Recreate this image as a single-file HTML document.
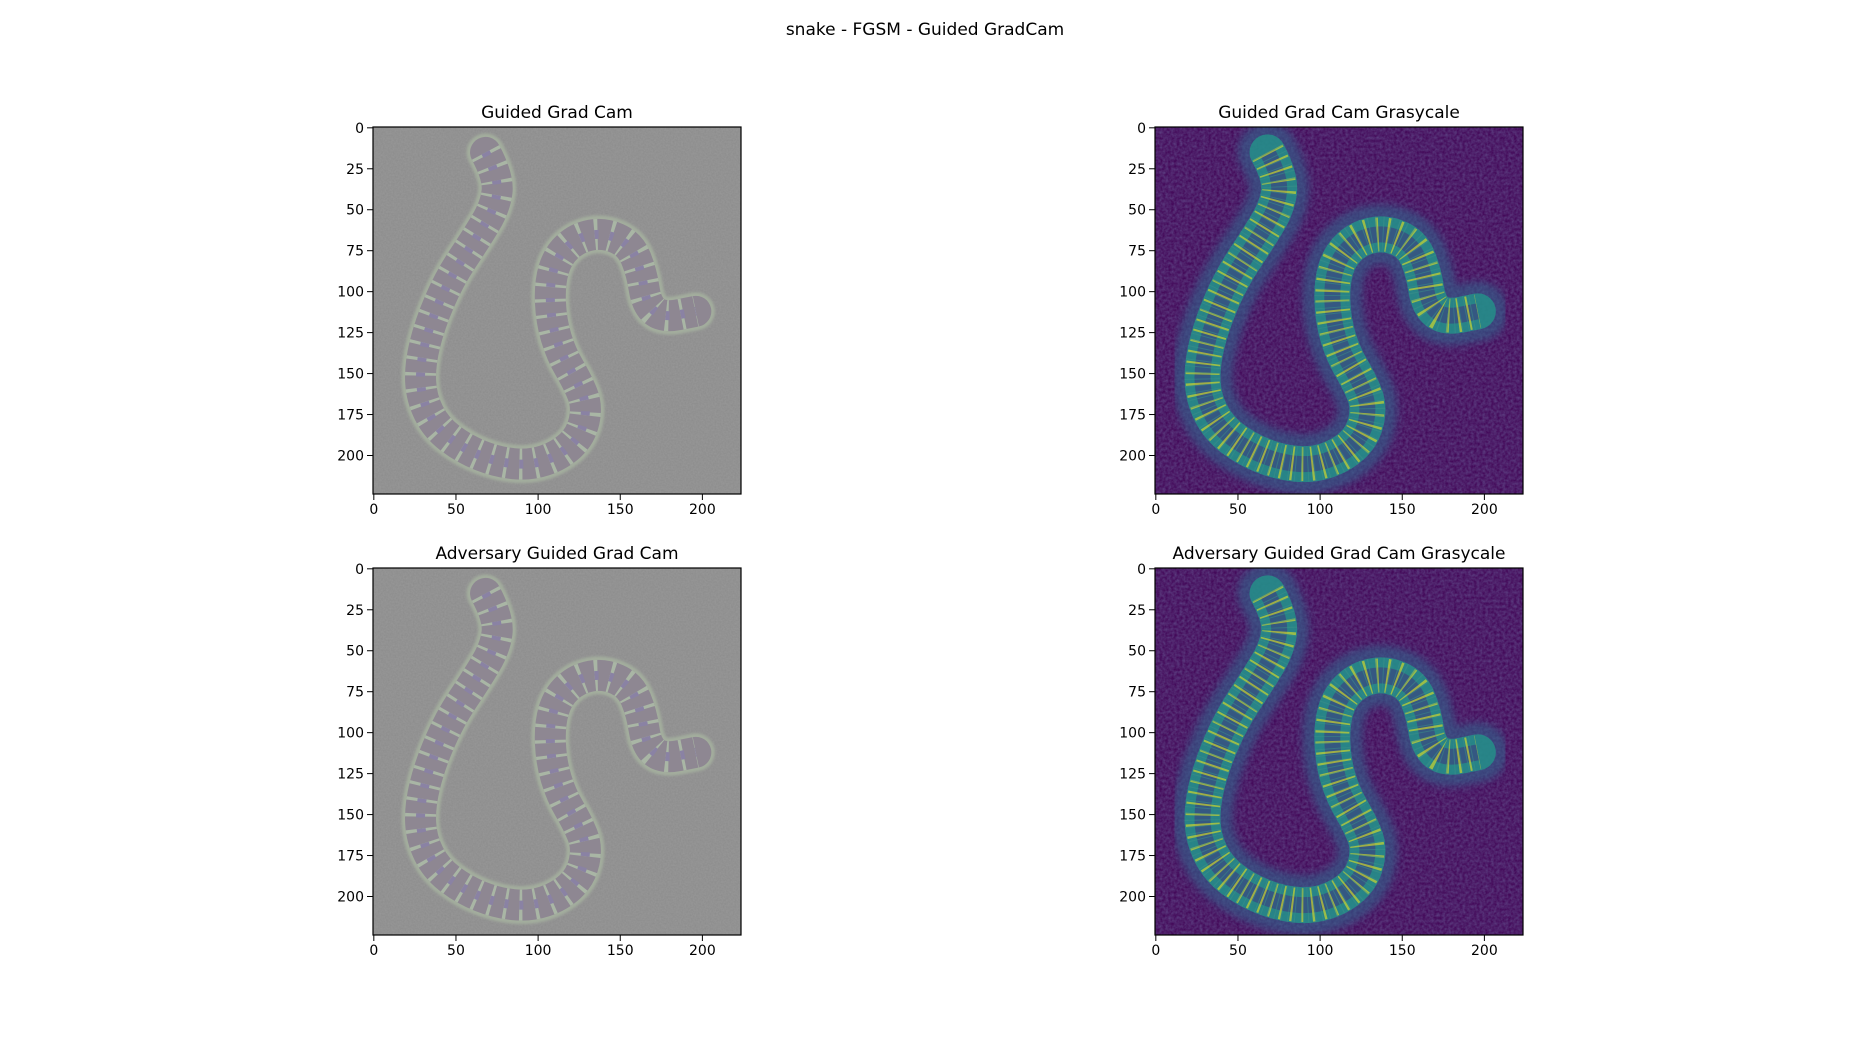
<!DOCTYPE html>
<html><head><meta charset="utf-8"><style>
html,body{margin:0;padding:0;background:#fff;width:1850px;height:1050px;overflow:hidden}
svg text{font-family:"DejaVu Sans","Liberation Sans",sans-serif;fill:#000}
</style></head><body>
<svg id="fig" width="1850" height="1050" xmlns="http://www.w3.org/2000/svg">
<defs>
<filter id="noiseGray" x="0" y="0" width="1" height="1">
<feTurbulence type="fractalNoise" baseFrequency="0.6" numOctaves="2" seed="3" result="n"/>
<feColorMatrix in="n" type="matrix" values="0 0 0 0 0.54  0 0 0 0 0.54  0 0 0 0 0.54  0 0 0 0.25 0"/>
</filter>
<filter id="noiseV" x="0" y="0" width="1" height="1">
<feTurbulence type="fractalNoise" baseFrequency="0.35" numOctaves="2" seed="7" result="n"/>
<feColorMatrix in="n" type="matrix" values="0 0 0 0 0.23  0 0 0 0 0.32  0 0 0 0 0.55  0 0 0 0.5 -0.1"/>
</filter>
<filter id="bodyNoise" x="0" y="0" width="1" height="1">
<feTurbulence type="fractalNoise" baseFrequency="0.5" numOctaves="1" seed="11" result="n"/>
<feColorMatrix in="n" type="matrix" values="0 0 0 0 0.27  0 0 0 0 0.05  0 0 0 0 0.35  0 0 0 1.6 -0.55"/>
</filter>
<filter id="blur1"><feGaussianBlur stdDeviation="4"/></filter>
<filter id="blur2"><feGaussianBlur stdDeviation="1.2"/></filter>
</defs>
<text x="925" y="35" font-size="17" text-anchor="middle">snake - FGSM - Guided GradCam</text>
<g id="panels"></g>
</svg>
<script>
const panelTitles = ["Guided Grad Cam","Guided Grad Cam Grasycale","Adversary Guided Grad Cam","Adversary Guided Grad Cam Grasycale"];
const panelKinds = ["rgb","viridis","rgb","viridis"];
const xTicks = [0,50,100,150,200];
const yTicks = [0,25,50,75,100,125,150,175,200];
const imgSize = [224,224];
// snake centerline in image pixel coords
const snakeX = [68,76,74,62,46,34,28,29,38,55,75,95,113,126,130,124,114,108,107,112,124,140,156,163,166,176,196];
const snakeY = [15,30,48,68,92,120,145,165,183,196,204,206,200,188,170,155,138,118,95,78,67,64,71,88,108,116,112];

const NS="http://www.w3.org/2000/svg";
const boxes=[[373,127],[1155,127],[373,568],[1155,568]];
const W=368,H=367;
const root=document.getElementById('panels');
function mk(t,a,p){const e=document.createElementNS(NS,t);for(const k in a)e.setAttribute(k,a[k]);(p||root).appendChild(e);return e;}
function pathD(sx,sy){let d="M"+sx(snakeX[0])+" "+sy(snakeY[0]);
 for(let i=1;i<snakeX.length-1;i++){const mx=(snakeX[i]+snakeX[i+1])/2,my=(snakeY[i]+snakeY[i+1])/2;d+=" Q"+sx(snakeX[i])+" "+sy(snakeY[i])+" "+sx(mx)+" "+sy(my);}
 const n=snakeX.length-1;d+=" L"+sx(snakeX[n])+" "+sy(snakeY[n]);return d;}
boxes.forEach((b,i)=>{
 const [L,T]=b;const kind=panelKinds[i];
 const sx=v=>L+(v+0.5)*W/imgSize[0];
 const sy=v=>T+(v+0.5)*H/imgSize[1];
 const g=mk('g',{});
 
 
 const clipId='c'+i;
 const cp=mk('clipPath',{id:clipId},g);mk('rect',{x:L,y:T,width:W,height:H},cp);
 const img=mk('g',{'clip-path':'url(#'+clipId+')'},g);
 
 
 const d=pathD(sx,sy);
 if(kind==="rgb"){
  mk('rect',{x:L,y:T,width:W,height:H,fill:'#8b8b8b'},img);
  mk('rect',{x:L,y:T,width:W,height:H,filter:'url(#noiseGray)'},img);
  mk('path',{d:d,fill:'none',stroke:'#a3ad9d',"stroke-width":38,"stroke-linecap":"round",filter:'url(#blur2)'},img);
  mk('path',{d:d,fill:'none',stroke:'#8e8792',"stroke-width":31,"stroke-linecap":"round"},img);
  mk('path',{d:d,fill:'none',stroke:'#a9b6a5',"stroke-width":31,"stroke-dasharray":"3 12","stroke-linecap":"butt"},img);
  mk('path',{d:d,fill:'none',stroke:'#8a82a4',"stroke-width":9,"stroke-dasharray":"4 11"},img);
 } else {
  mk('rect',{x:L,y:T,width:W,height:H,fill:'#440a5a'},img);
  mk('rect',{x:L,y:T,width:W,height:H,filter:'url(#noiseV)'},img);
  mk('path',{d:d,fill:'none',stroke:'#31648d',"stroke-width":60,"stroke-linecap":"round",filter:'url(#blur1)',opacity:0.6},img);
  mk('path',{d:d,fill:'none',stroke:'#23948a',"stroke-width":36,"stroke-linecap":"round",opacity:0.8},img);
  mk('path',{d:d,fill:'none',stroke:'#3a4a80',"stroke-width":16,opacity:0.75},img);
  mk('path',{d:d,fill:'none',stroke:'#d8dc28',"stroke-width":34,"stroke-dasharray":"2 8",opacity:0.65},img);
  mk('path',{d:d,fill:'none',stroke:'#3b8f8a',"stroke-width":36,"stroke-dasharray":"1 5",opacity:0.5},img);
 }
 const fr=mk('rect',{x:L,y:T,width:W,height:H,fill:'none',stroke:'#000',"stroke-width":1.2},g);
 
 
 const tt=mk('text',{x:L+W/2,y:T-9,"font-size":17,"text-anchor":"middle"},g);tt.textContent=panelTitles[i];
 
 
 xTicks.forEach(v=>{const x=sx(v);mk('line',{x1:x,x2:x,y1:T+H,y2:T+H+6,stroke:'#000'},g);
  const t=mk('text',{x:x,y:T+H+20,"font-size":14,"text-anchor":"middle"},g);t.textContent=v;
  
  });
 yTicks.forEach(v=>{const y=sy(v);mk('line',{x1:L-6,x2:L,y1:y,y2:y,stroke:'#000'},g);
  const t=mk('text',{x:L-9,y:y+5,"font-size":14,"text-anchor":"end"},g);t.textContent=v;
  
  });
});
</script>
</body></html>
